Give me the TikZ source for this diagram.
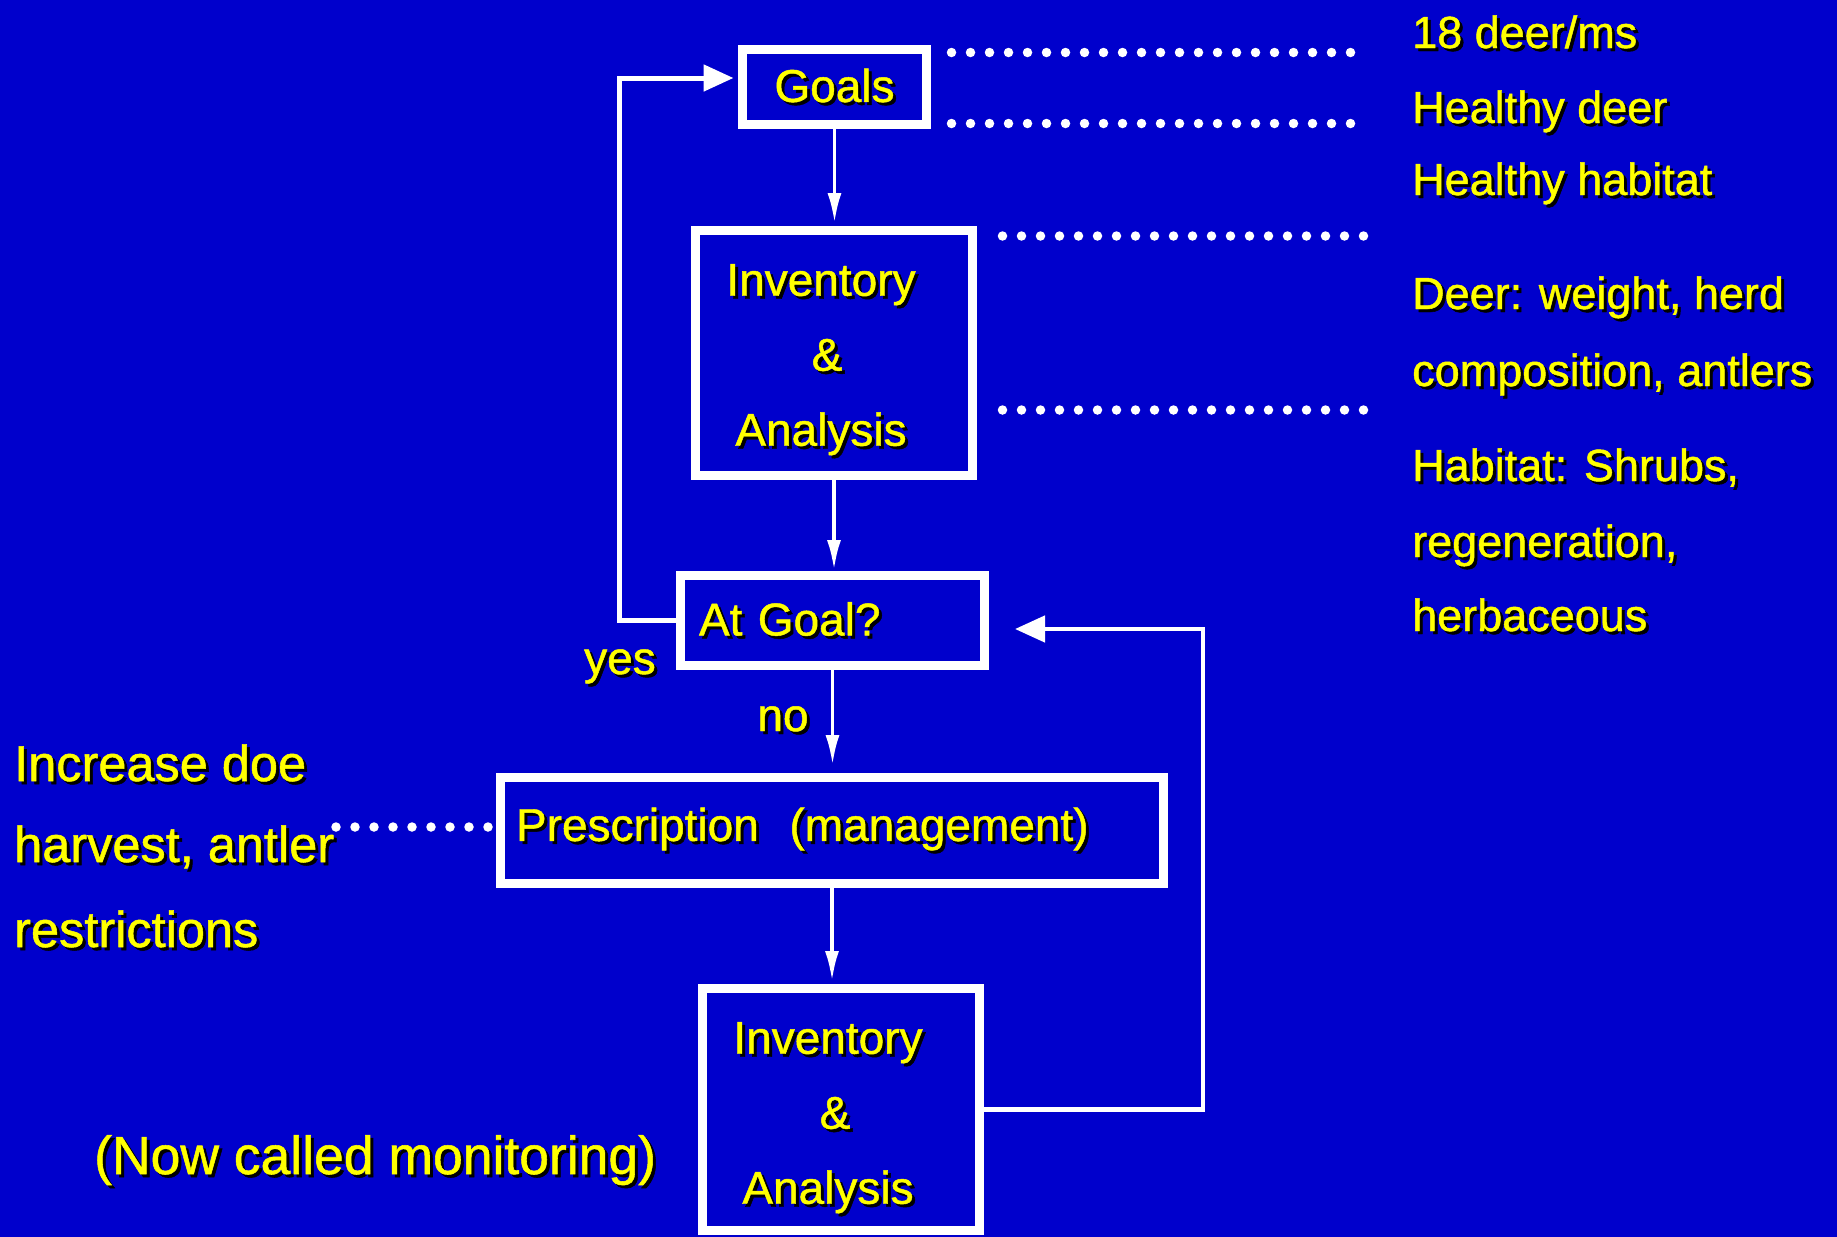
\documentclass[tikz,border=0pt]{standalone}
\usepackage{fontspec}
\setmainfont{Liberation Sans}[FakeBold=1]
\usetikzlibrary{arrows.meta,calc}
\definecolor{bg}{RGB}{0,0,204}
\definecolor{txt}{RGB}{255,255,0}
\newcommand\shd[1]{\leavevmode\rlap{\hspace{3pt}\raisebox{-3pt}{\color{black}#1}}#1}
\begin{document}
\begin{tikzpicture}[x=1pt,y=-1pt,
  box/.style={draw=white,line width=9pt,fill=bg,text=txt,
    font=\fontsize{46}{75}\selectfont,inner sep=0pt},
  lbl/.style={text=txt,font=\fontsize{45}{54}\selectfont,inner sep=0pt,anchor=base west},
  conn/.style={draw=white,line width=3.5pt},
  loopline/.style={draw=white,line width=5pt},
  vtip/.style={-{Latex[length=30pt,width=14pt]}},
  btip/.style={-{Triangle[length=30pt,width=26pt]}},
  dots/.style={white,line width=9.5pt,line cap=round,dash pattern=on 0pt off 19pt}]
\useasboundingbox (0,0) rectangle (1837,1237);
\fill[bg] (0,0) rectangle (1837,1237);

% boxes
\node[box,minimum width=184pt,minimum height=75pt] (goals) at (834.5,87) {\shd{Goals}};
\node[box,minimum width=277pt,minimum height=245pt,align=center] (inv1) at (834,353)
  {\rule{0pt}{48pt}\shd{Inventory}\kern26pt\\\shd{\&}\kern14pt\\\shd{Analysis}\kern26pt};
\node[box,minimum width=304pt,minimum height=90pt,text width=267pt,align=left] (atgoal) at (832.5,620.5)
  {\shd{At Goal?}};
\node[box,minimum width=663pt,minimum height=106pt,text width=632pt,align=left] (prescr) at (832,830.5)
  {\shd{Prescription\ \ (management)}};
\node[box,minimum width=277pt,minimum height=242pt,align=center] (inv2) at (841,1109.5)
  {\rule{0pt}{51pt}\shd{Inventory}\kern26pt\\\shd{\&}\kern12pt\\\shd{Analysis}\kern26pt};

% vertical connectors
\draw[conn,vtip,shorten >=3pt] (goals.south) -- (goals.south |- inv1.north);
\draw[conn,vtip,shorten >=1pt] (inv1.south) -- (inv1.south |- atgoal.north);
\draw[conn,vtip,shorten >=8pt] (atgoal.south) -- (atgoal.south |- prescr.north);
\draw[conn,vtip,shorten >=3pt] (prescr.south) -- (prescr.south |- inv2.north);

% yes loop
\coordinate (ly) at (619,78);
\draw[loopline,btip,shorten >=4.5pt] (atgoal.west) -| (ly) -- (goals.west |- ly);

% feedback loop
\coordinate (fb) at (1203,629);
\draw[conn,line width=4.5pt,btip,shorten >=26pt] (inv2.east) -| (fb) -- (atgoal.east |- fb);

% dotted lines
\draw[dots] ($(goals.north east)+(20.5,7.5)$) -- ++(412,0);
\draw[dots] ($(goals.south east)+(20.5,-5.5)$) -- ++(412,0);
\draw[dots] ($(inv1.north east)+(25.5,10)$) -- ++(370,0);
\draw[dots] ($(inv1.east)+(25.5,57)$) -- ++(370,0);
\draw[dots] ($(prescr.west)+(-8,-3.5)$) -- ++(-160,0);

% labels
\node[lbl,font=\fontsize{46}{54}\selectfont,anchor=base] (yes) at (620,674) {\shd{yes}};
\node[lbl,font=\fontsize{46}{54}\selectfont,anchor=base] (no) at (783,731) {\shd{no}};

\node[lbl] (r1) at (1412,48) {\shd{18 deer/ms}};
\node[lbl] (r2) at (1412,123) {\shd{Healthy deer}};
\node[lbl] (r3) at (1412,195) {\shd{Healthy habitat}};
\node[lbl] (r4) at (1412,309) {\shd{Deer: weight, herd}};
\node[lbl] (r5) at (1412,386) {\shd{composition, antlers}};
\node[lbl] (r6) at (1412,481) {\shd{Habitat: Shrubs,}};
\node[lbl] (r7) at (1412,557) {\shd{regeneration,}};
\node[lbl] (r8) at (1412,631) {\shd{herbaceous}};

\node[lbl,font=\fontsize{50.5}{54}\selectfont] (l1) at (14,781) {\shd{Increase doe}};
\node[lbl,font=\fontsize{50.5}{54}\selectfont] (l2) at (14,862) {\shd{harvest, antler}};
\node[lbl,font=\fontsize{50.5}{54}\selectfont] (l3) at (14,947) {\shd{restrictions}};

\node[lbl,font=\fontsize{53.5}{60}\selectfont] (mon) at (94,1174) {\shd{(Now called monitoring)}};
\end{tikzpicture}
\end{document}
